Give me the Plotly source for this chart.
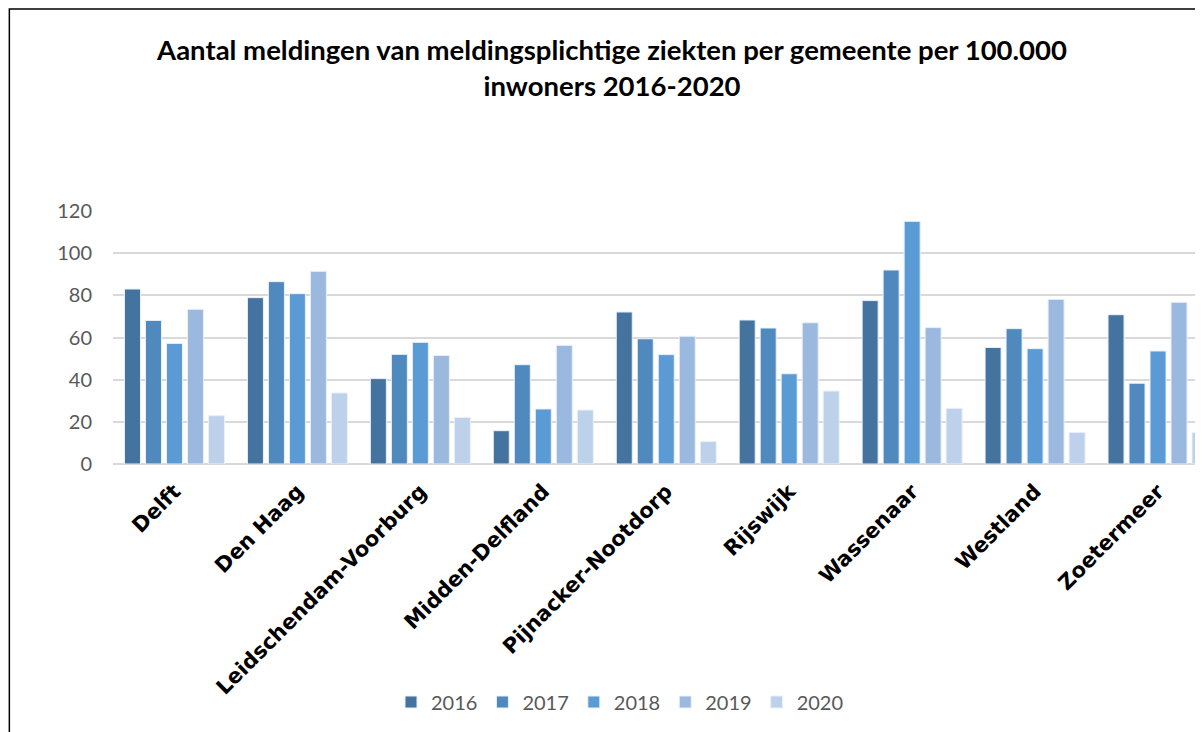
import plotly.graph_objects as go

gemeenten = ["Delft", "Den Haag", "Leidschendam-Voorburg", "Midden-Delfland",
             "Pijnacker-Nootdorp", "Rijswijk", "Wassenaar", "Westland", "Zoetermeer"]
jaren = ["2016", "2017", "2018", "2019", "2020"]

v2016 = [83.0, 78.9, 40.5, 15.8, 72.1, 68.3, 77.5, 55.3, 70.8]
v2017 = [68.1, 86.5, 52.0, 47.1, 59.4, 64.5, 92.0, 64.2, 38.3]
v2018 = [57.2, 80.8, 57.7, 26.1, 51.9, 42.8, 115.1, 54.7, 53.6]
v2019 = [73.4, 91.4, 51.5, 56.3, 60.6, 67.0, 64.7, 78.1, 76.7]
v2020 = [22.9, 33.7, 22.1, 25.6, 10.6, 34.6, 26.4, 15.0, 14.9]

reeksen = [v2016, v2017, v2018, v2019, v2020]
kleuren = ["#44739F", "#4F89BE", "#5B9BD5", "#9BB9DF", "#BDD1EA"]

fig = go.Figure()
for jaar, vals, kl in zip(jaren, reeksen, kleuren):
    fig.add_trace(go.Bar(
        x=gemeenten, y=vals, name=jaar,
        marker=dict(color=kl, line=dict(color="#EAF0F8", width=1)),
    ))

W, H = 1203, 732
ml, mt, mb = 104.5, 203, 276
pw = W - ml
ph = H - mt - mb
cat_w = 123.0

fig.update_layout(
    width=W, height=H,
    margin=dict(l=ml, r=0, t=mt, b=mb, autoexpand=False),
    paper_bgcolor="white", plot_bgcolor="white",
    barmode="group", bargap=0.146, bargroupgap=0.238,
    title=dict(
        text="Aantal meldingen van meldingsplichtige ziekten per gemeente per 100.000<br>inwoners 2016-2020",
        x=604 / W, xref="container", xanchor="center",
        y=1 - 52 / H, yref="container", yanchor="top",
        font=dict(family="Lato", size=27.5, color="#000000", weight="bold"),
    ),
    xaxis=dict(
        range=[-0.5, -0.5 + pw / cat_w],
        tickangle=-45,
        tickfont=dict(family="DejaVu Sans", size=21, color="#000000", weight="bold"),
        ticklabelstandoff=10,
        showgrid=False, zeroline=False, showline=False, ticks="",
    ),
    yaxis=dict(
        range=[0, 120], dtick=20,
        gridcolor="#D9D9D9", gridwidth=1.5,
        zeroline=True, zerolinecolor="#D9D9D9", zerolinewidth=1.5,
        tickfont=dict(family="Lato", size=20, color="#595959"),
        ticklabelstandoff=20,
        showline=False,
    ),
    legend=dict(
        orientation="h", x=612 / W, xanchor="center", xref="container",
        y=1 - 694 / H, yanchor="middle", yref="container",
        font=dict(family="Lato", size=20, color="#595959"),
        itemwidth=30, tracegroupgap=0,
    ),
    showlegend=True,
)

# chart border (extends beyond the cropped view)
x0 = (0.8 - ml) / pw
y1 = (H - mb - 1) / ph
fig.add_shape(type="rect", xref="paper", yref="paper",
              x0=x0, x1=1.2, y0=-3, y1=y1,
              line=dict(color="#000000", width=1.5), fillcolor="rgba(0,0,0,0)", layer="above")

fig.write_html("out.html")
